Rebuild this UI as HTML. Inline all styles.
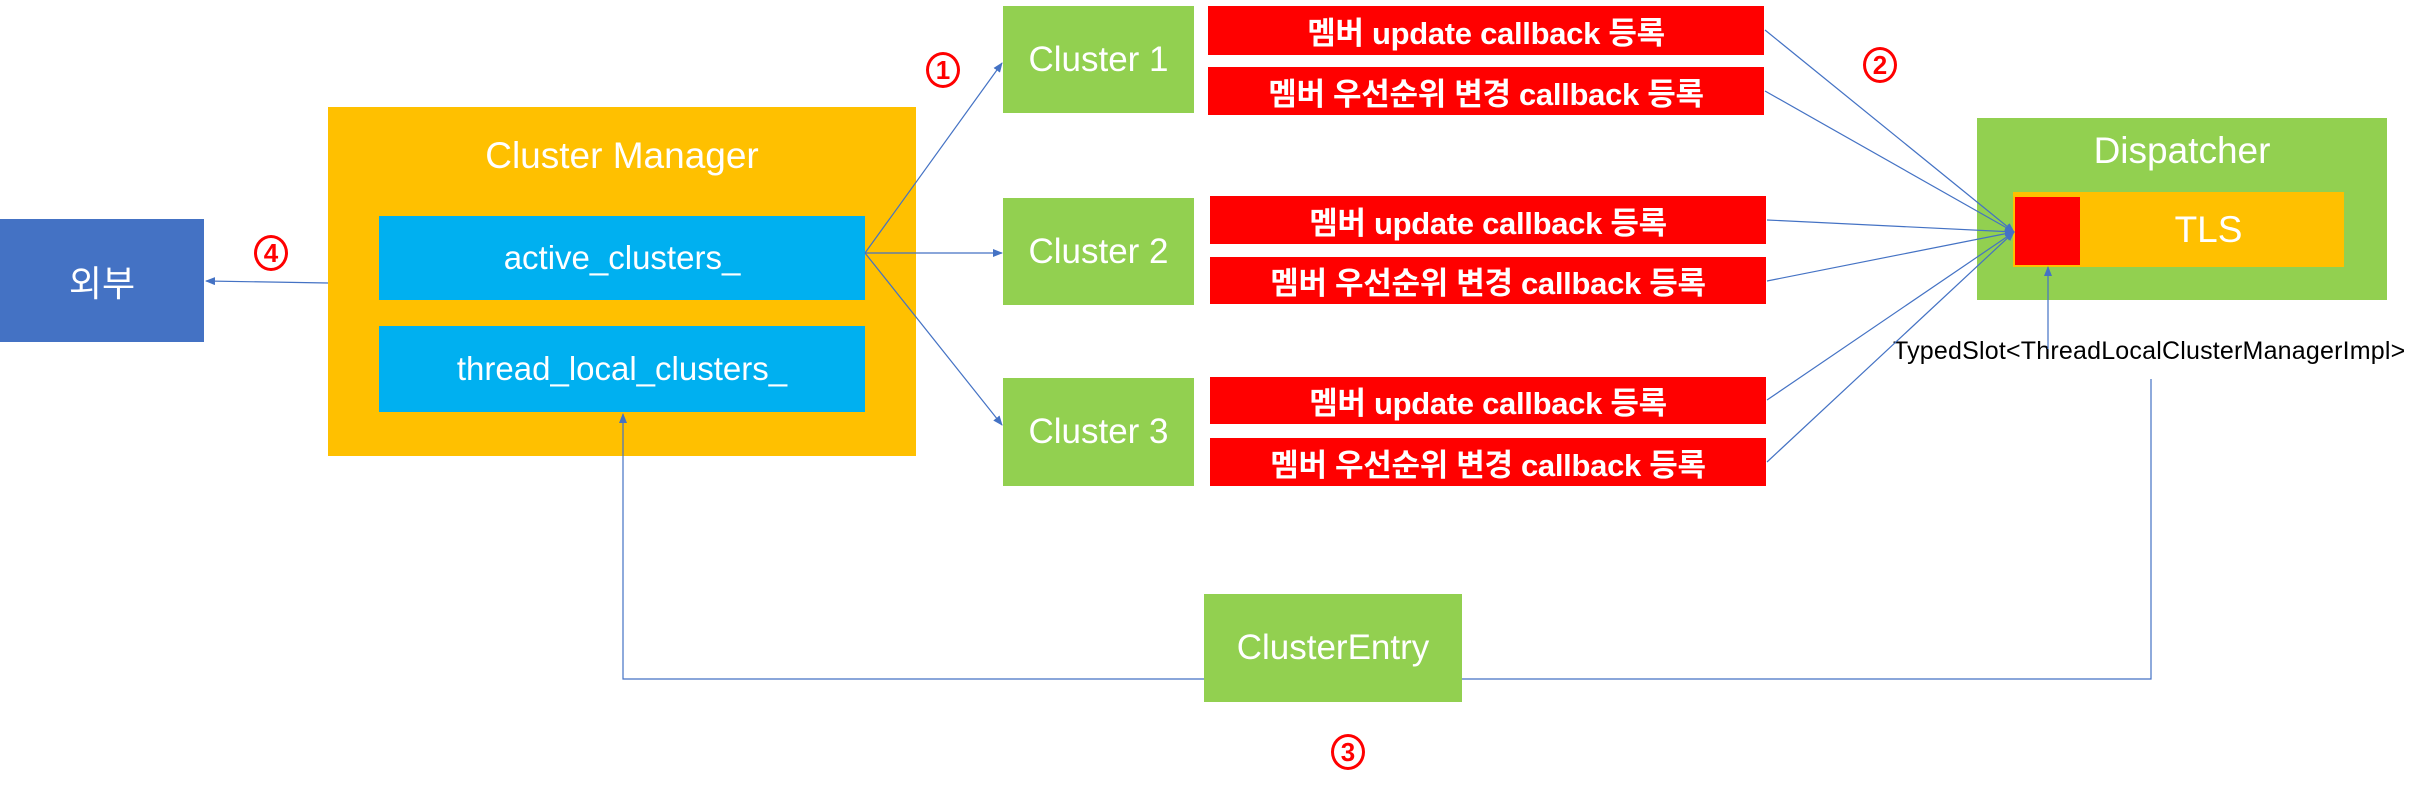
<!DOCTYPE html>
<html><head><meta charset="utf-8"><style>
body{margin:0;width:2425px;height:794px;background:#fff;position:relative;overflow:hidden;font-family:"Liberation Sans","Noto Sans CJK KR",sans-serif}
.b{position:absolute;display:flex;align-items:center;justify-content:center;color:#fff;box-sizing:border-box;white-space:nowrap}
.g{background:#92d050;font-size:35px}
.r{background:#ff0000;font-weight:bold;font-size:31px;letter-spacing:-0.3px}
.c{background:#00b0f0;font-size:33px}
.n{position:absolute;color:#f00;font-weight:bold;font-size:26px;width:34px;height:36px;border:3px solid #f00;border-radius:50%;display:flex;align-items:center;justify-content:center;box-sizing:border-box;transform:translate(-50%,-50%)}
</style></head><body>
<div class="b" style="left:0;top:219px;width:204px;height:123px;background:#4472c4;font-size:36px">외부</div>
<div class="b" style="left:328px;top:107px;width:588px;height:349px;background:#ffc000;align-items:flex-start;padding-top:28px;font-size:37px">Cluster Manager</div>
<div class="b c" style="left:379px;top:216px;width:486px;height:84px">active_clusters_</div>
<div class="b c" style="left:379px;top:326px;width:486px;height:86px">thread_local_clusters_</div>
<div class="b g" style="left:1003px;top:6px;width:191px;height:107px">Cluster 1</div>
<div class="b g" style="left:1003px;top:198px;width:191px;height:107px">Cluster 2</div>
<div class="b g" style="left:1003px;top:378px;width:191px;height:108px">Cluster 3</div>
<div class="b r" style="left:1208px;top:6px;width:556px;height:49px">멤버 update callback 등록</div>
<div class="b r" style="left:1208px;top:67px;width:556px;height:48px">멤버 우선순위 변경 callback 등록</div>
<div class="b r" style="left:1210px;top:196px;width:556px;height:48px">멤버 update callback 등록</div>
<div class="b r" style="left:1210px;top:257px;width:556px;height:47px">멤버 우선순위 변경 callback 등록</div>
<div class="b r" style="left:1210px;top:377px;width:556px;height:47px">멤버 update callback 등록</div>
<div class="b r" style="left:1210px;top:438px;width:556px;height:48px">멤버 우선순위 변경 callback 등록</div>
<div class="b g" style="left:1977px;top:118px;width:410px;height:182px;align-items:flex-start;padding-top:12px;font-size:37px">Dispatcher</div>
<div class="b" style="left:2013px;top:192px;width:331px;height:75px;background:#ffc000;font-size:37px;padding-left:60px">TLS</div>
<div class="b" style="left:2015px;top:197px;width:65px;height:68px;background:#f00"></div>
<div class="b g" style="left:1204px;top:594px;width:258px;height:108px">ClusterEntry</div>
<div style="position:absolute;left:1893px;top:337px;font-size:25px;color:#000;white-space:nowrap;letter-spacing:0.2px">TypedSlot&lt;ThreadLocalClusterManagerImpl&gt;</div>
<div class="n" style="left:943px;top:70px">1</div>
<div class="n" style="left:1880px;top:65px">2</div>
<div class="n" style="left:1348px;top:752px">3</div>
<div class="n" style="left:271px;top:253px">4</div>
<svg width="2425" height="794" style="position:absolute;left:0;top:0" fill="none" stroke="#4472c4" stroke-width="1.2">
<defs><marker id="a" markerWidth="10" markerHeight="8" refX="9" refY="4" orient="auto" markerUnits="userSpaceOnUse"><path d="M0,0L10,4L0,8z" fill="#4472c4" stroke="none"/></marker></defs>
<path d="M328,283L206,281" marker-end="url(#a)"/>
<path d="M865,253L1002,63" marker-end="url(#a)"/>
<path d="M865,253L1002,253" marker-end="url(#a)"/>
<path d="M865,253L1002,425" marker-end="url(#a)"/>
<path d="M1765,30L2014,232" marker-end="url(#a)"/>
<path d="M1765,91L2014,232" marker-end="url(#a)"/>
<path d="M1767,220L2014,232" marker-end="url(#a)"/>
<path d="M1767,281L2014,232" marker-end="url(#a)"/>
<path d="M1767,400L2014,232" marker-end="url(#a)"/>
<path d="M1767,462L2014,232" marker-end="url(#a)"/>
<path d="M2048,349L2048,267" marker-end="url(#a)"/>
<path d="M1462,679L2151,679L2151,379"/>
<path d="M1204,679L623,679L623,414" marker-end="url(#a)"/>
</svg>
</body></html>
